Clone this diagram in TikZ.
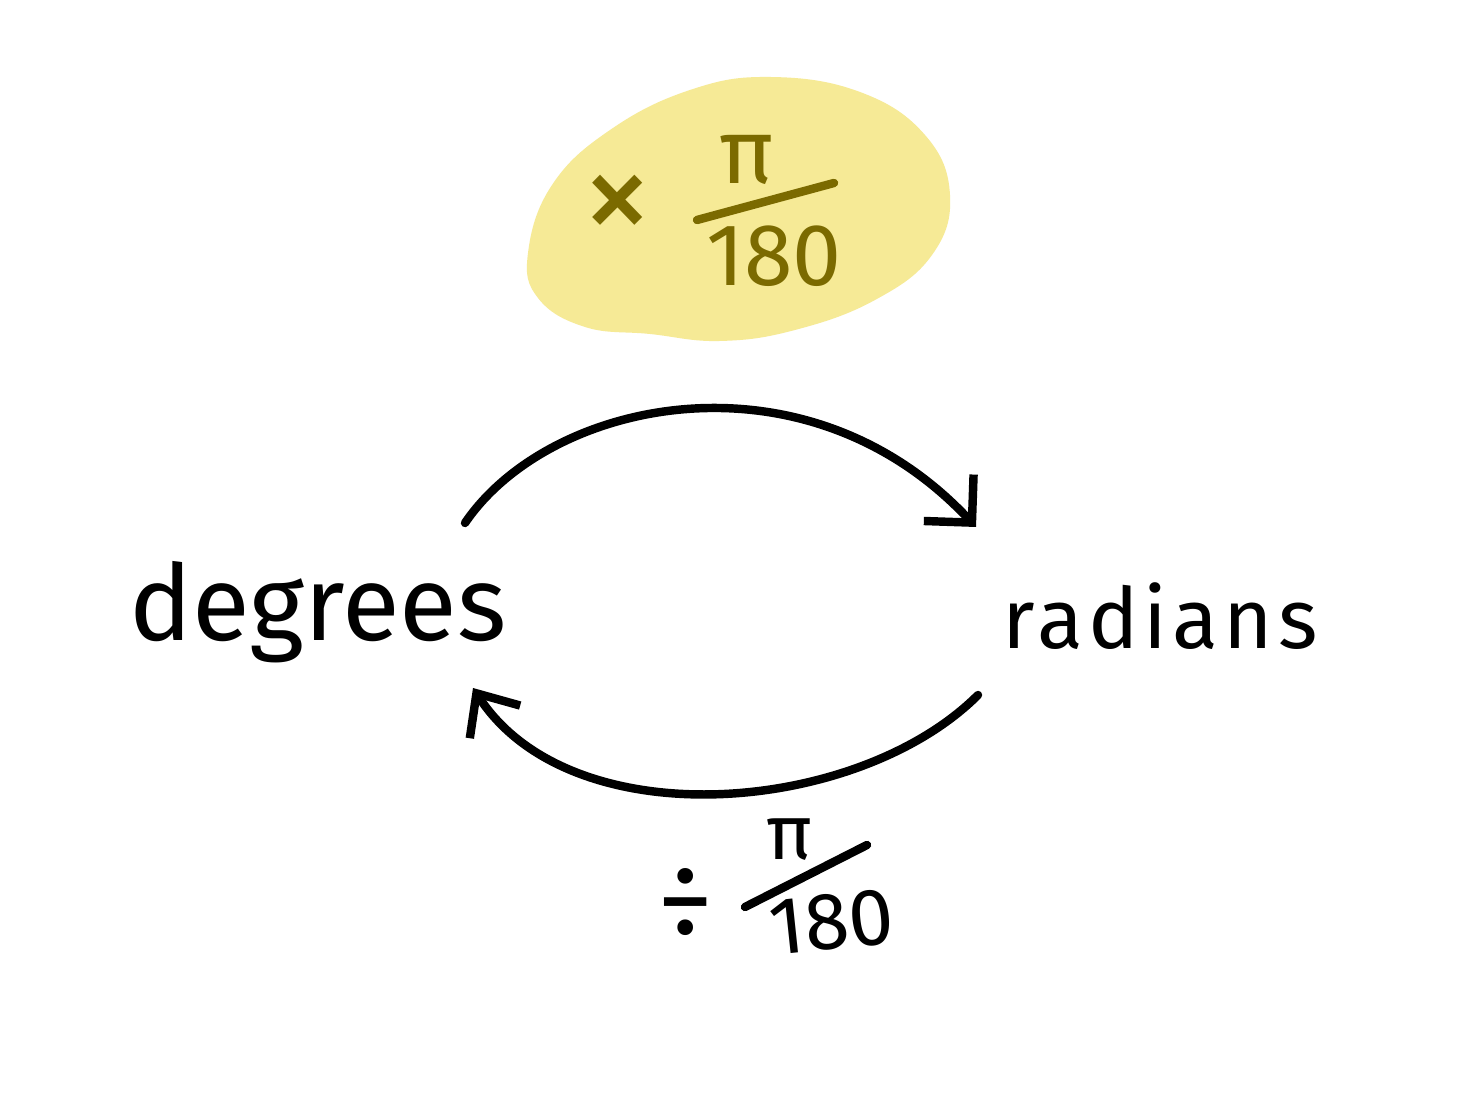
\documentclass[tikz,border=0pt]{standalone}
\usepackage{fontspec}
\setmainfont{Fira Sans}
\usetikzlibrary{arrows.meta}
\definecolor{blobyellow}{RGB}{246,234,150}
\definecolor{olive}{RGB}{123,106,0}
\tikzset{
  ink/.style={line width=2.4pt, line cap=round, line join=round},
  arc/.style={ink, draw=black},
  word/.style={inner sep=0pt, text=black},
  oliveText/.style={inner sep=0pt, text=olive},
}
\begin{document}
\begin{tikzpicture}[x=0.01cm,y=-0.01cm]
\useasboundingbox[fill=white] (0,0) rectangle (1470,1104);
% yellow blob
\fill[blobyellow] plot[smooth cycle, tension=0.7] coordinates {
 (528,253) (552,185) (610,130) (690,90) (770,77) (860,92) (925,135)
 (950,195) (932,255) (875,300) (795,330) (720,341) (650,334) (585,327) (538,298)};
% top label
\node[oliveText, font=\fontsize{40}{44}\selectfont] (times) at (618,209) {×};
\node[oliveText, font=\fontsize{26}{30}\selectfont] (pitop) at (747,160) {π};
\coordinate (bartopL) at (697,220);
\coordinate (bartopR) at (834,183);
\draw[ink, draw=olive] (bartopL) -- (bartopR);
\node[oliveText, font=\fontsize{25}{30}\selectfont] (numtop) at (774,256) {180};
% words
\node[word, font=\fontsize{30}{36}\selectfont] (deg) at (318,612) {degrees};
\node[word, font=\fontsize{24}{30}\selectfont\addfontfeatures{LetterSpace=6}] (rad) at (1160,616) {radians};
% arcs
\coordinate (topStart) at (465,523);
\coordinate (topEnd) at (976,527);
\coordinate (botStart) at (978,695);
\coordinate (botEnd) at (473,688);
\draw[arc, -{Straight Barb[length=0.34cm,width=0.68cm]}] (topStart) .. controls (550,398) and (806,345) .. (topEnd);
\draw[arc, -{Straight Barb[length=0.34cm,width=0.6cm]}] (botStart) .. controls (858,815) and (571,839) .. (botEnd);
% bottom label
\node[word, font=\fontsize{32}{36}\selectfont] (divide) at (686,904) {÷};
\node[word, font=\fontsize{22}{26}\selectfont] (pibot) at (790,840) {π};
\coordinate (barbotL) at (745,907);
\coordinate (barbotR) at (867,845);
\draw[ink] (barbotL) -- (barbotR);
\node[word, font=\fontsize{23}{28}\selectfont, rotate=6] (numbot) at (832,922) {180};
\end{tikzpicture}
\end{document}
